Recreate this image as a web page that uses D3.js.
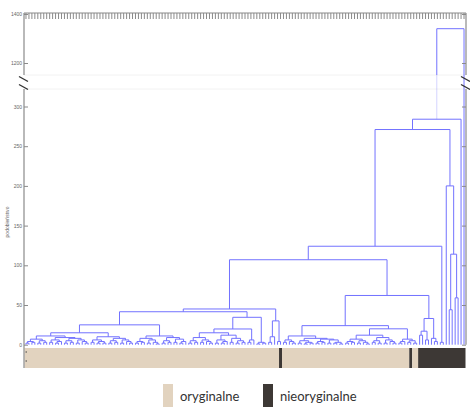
<!DOCTYPE html>
<html>
<head>
<meta charset="utf-8">
<script src="https://cdn.jsdelivr.net/npm/d3@7"></script>
<style>
  body { margin: 0; background: #fff; }
  text { font-family: "Liberation Sans", Arial, sans-serif; }
</style>
</head>
<body>
<svg id="chart" width="470" height="407"></svg>
<script>
// ---- Dendrogram data: each node is [mergeHeight, left, right]; a leaf is its class (0 = oryginalne, 1 = nieoryginalne)
const a1 = [11, [7, [4, [2, 0, 0], [3, 0, 0]], [5, [2, 0, 0], [3, 0, 0]]],
               [9, [6, [3, 0, 0], [4, [2, 0, 0], 0]], [8, [5, [2, 0, 0], [3, 0, 0]], [6, [2, 0, 0], [4, 0, [2, 0, 0]]]]]];
const a2 = [10, [6, [3, 0, 0], [4, [2, 0, 0], [2, 0, 0]]],
               [8, [5, [2, 0, 0], [3, 0, 0]], [6, [2, 0, 0], [4, 0, [2, 0, 0]]]]];
const a3 = [11, [8, [4, [2, 0, 0], [3, 0, 0]], [6, [2, 0, 0], [3, 0, [1, 0, 0]]]],
               [9, [5, [2, 0, 0], [3, 0, 0]], [7, [3, 0, 0], [4, [2, 0, 0], 0]]]];
const b1 = [15, [9, [5, [2, 0, 0], [3, 0, 0]], [6, [3, 0, 0], [4, 0, [2, 0, 0]]]],
               [12, [6, [2, 0, 0], [4, [2, 0, 0], 0]], [8, [3, 0, 0], [5, [2, 0, 0], [3, 0, 0]]]]];
const b2 = [6, [3, 0, 0], 0];
const b3 = [3, [1, 0, 0], [2, 0, 0]];
const c1 = [30, [10, [3, 0, 0], 0], [4, 0, 1]];
const g1 = [6, [3, 0, 0], [4, 0, [2, 0, 0]]];
const g2 = [8, [5, [2, 0, 0], [3, [1, 0, 0], [2, 0, 0]]],
              [7, [4, [2, 0, 0], [3, 0, 0]], [6, [2, 0, 0], [3, [2, 0, 0], [1, 0, 0]]]]];
const g3 = [12, [7, [4, [2, 0, 0], [3, 0, 0]], [5, [2, 0, 0], [3, 0, [1, 0, 0]]]],
               [9, [5, [3, 0, 0], [2, 0, 0]], [6, [2, 0, 0], [4, 0, [2, 0, 0]]]]];
const g4 = [7, [4, [2, 0, 0], 0], [5, [3, 0, 1], [2, 0, 0]]];
const f1 = [33, [17, [12, 1, 1], [6, 1, 1]], [8, 1, [4, 1, 1]]];
const e1 = [3, 1, 1];
const h1 = [200, 1, [114, [44, 1, 1], [59, 1, 1]]];

// upper merges
const clusterA = [25, [15, a1, a2], a3];
const clusterB = [41.5, clusterA, [34.5, [19.8, b1, b2], b3]];
const clusterC = [45, clusterB, c1];
const clusterG = [24, [11, g1, g2], [20, g3, g4]];
const clusterF = [62, clusterG, f1];
const clusterD = [107, clusterC, clusterF];
const clusterE = [124, clusterD, e1];
const tree = [1340, [284, [271, clusterE, h1], 1], 1];

// axis ticks and legend
const lowTicks = [0, 50, 100, 150, 200, 250, 300];
const highTicks = [1200, 1400];
const classNames = ["oryginalne", "nieoryginalne"];
const classColors = ["#e2d3bf", "#3d3835"];
const yTitle = "podobieństwo";

// ---- layout
const svg = d3.select("#chart");
const plotL = 24, plotR = 466, plotT = 13;
const breakTop = 75, breakBottom = 89;
const barTop = 348, barBottom = 368;

const yLow = d3.scaleLinear().domain([0, 300]).range([344.7, 106.5]);
const yHigh = d3.scaleLinear().domain([1200, 1400]).range([63, 14]);
const yv = v => v > 700 ? yHigh(v) : yLow(v);

function toNode(d) {
  return Array.isArray(d) ? { h: d[0], children: [toNode(d[1]), toNode(d[2])] } : { h: 0, cls: d };
}
const root = d3.hierarchy(toNode(tree));
const leaves = root.leaves();
const x = d3.scaleBand().domain(d3.range(leaves.length)).range([plotL + 0.5, plotR - 0.5]);
leaves.forEach((d, i) => { d.i = i; d.x = x(i) + x.bandwidth() / 2; });
root.eachAfter(d => { if (d.children) d.x = d3.mean(d.children, c => c.x); });

// faint band lines of the axis break
svg.append("g").selectAll("line").data([breakTop, breakBottom]).join("line")
  .attr("x1", plotL).attr("x2", plotR).attr("y1", d => d).attr("y2", d => d)
  .attr("stroke", "#f2f2f2").attr("stroke-width", 1);

// class bar under the leaves: one run per stretch of equal class
const runs = [];
leaves.forEach(d => {
  const last = runs[runs.length - 1];
  if (last && last.cls === d.data.cls) last.end = d.i;
  else runs.push({ cls: d.data.cls, start: d.i, end: d.i });
});
svg.append("g").selectAll("rect").data(runs).join("rect")
  .attr("x", d => x(d.start)).attr("width", d => x(d.end) + x.bandwidth() - x(d.start))
  .attr("y", barTop).attr("height", barBottom - barTop)
  .attr("fill", d => classColors[d.cls]);

// dendrogram links
const links = svg.append("g").attr("fill", "none").attr("stroke", "#7272ff").attr("stroke-width", 1);
root.descendants().filter(d => d.children).forEach(d => {
  const [c0, c1] = d.children;
  const yn = yv(d.data.h);
  if (d === root) {
    // left branch passes through the break: drawn lighter below it
    links.append("path").attr("d", `M${c0.x},${yn}V${breakTop}`);
    links.append("path").attr("d", `M${c0.x},${breakTop}V${yv(c0.data.h)}`).attr("stroke-opacity", 0.3);
    links.append("path").attr("d", `M${c0.x},${yn}H${c1.x}V${yv(c1.data.h)}`);
  } else {
    links.append("path").attr("d", `M${c0.x},${yv(c0.data.h)}V${yn}H${c1.x}V${yv(c1.data.h)}`);
  }
});

// axes
const axisColor = "#8a8a8a";
function styleAxis(g) {
  g.select(".domain").remove();
  g.selectAll(".tick line").attr("stroke", axisColor);
  g.selectAll(".tick text").attr("fill", "#666").attr("font-size", 5);
}
svg.append("g").attr("transform", `translate(${plotL},0)`)
  .call(d3.axisLeft(yLow).tickValues(lowTicks).tickFormat(d3.format("d")).tickSizeInner(-4).tickSizeOuter(0).tickPadding(2)).call(styleAxis);
svg.append("g").attr("transform", `translate(${plotL},0)`)
  .call(d3.axisLeft(yHigh).tickValues(highTicks).tickFormat(d3.format("d")).tickSizeInner(-4).tickSizeOuter(0).tickPadding(2)).call(styleAxis);
svg.append("g").attr("transform", `translate(${plotR},0)`)
  .call(d3.axisRight(yLow).tickValues(lowTicks).tickSizeInner(-4).tickSizeOuter(0).tickFormat("")).call(styleAxis);
svg.append("g").attr("transform", `translate(${plotR},0)`)
  .call(d3.axisRight(yHigh).tickValues(highTicks).tickSizeInner(-4).tickSizeOuter(0).tickFormat("")).call(styleAxis);
svg.append("g").attr("transform", `translate(0,${plotT})`)
  .call(d3.axisTop(x).tickSizeInner(-6).tickSizeOuter(0).tickFormat("")).call(styleAxis);

// frame lines (broken at the axis break)
const frame = svg.append("g").attr("stroke", axisColor).attr("stroke-width", 1.2);
frame.append("line").attr("x1", plotL).attr("x2", plotR).attr("y1", plotT).attr("y2", plotT);
[plotL, plotR].forEach(xx => {
  frame.append("line").attr("x1", xx).attr("x2", xx).attr("y1", plotT).attr("y2", breakTop);
  frame.append("line").attr("x1", xx).attr("x2", xx).attr("y1", breakBottom).attr("y2", xx === plotL ? barBottom : yLow(0));
});

// break marks
const slash = svg.append("g").attr("stroke", "#333").attr("stroke-width", 1.4);
[[plotL, 78], [plotL, 86], [plotR, 78], [plotR, 86]].forEach(([xx, yy]) => {
  slash.append("line").attr("x1", xx - 5).attr("y1", yy - 1.5).attr("x2", xx + 4).attr("y2", yy + 3.5);
});

// row marks beside the class bar
svg.append("g").selectAll("line").data([352, 361]).join("line")
  .attr("x1", plotL + 1.5).attr("x2", plotL + 3).attr("y1", d => d).attr("y2", d => d)
  .attr("stroke", "#444").attr("stroke-width", 1);

// y title
svg.append("text").attr("transform", "translate(9,222) rotate(-90)")
  .attr("text-anchor", "middle").attr("font-size", 5).attr("fill", "#666").text(yTitle);

// legend
const legend = svg.append("g").selectAll("g").data(classNames).join("g")
  .attr("transform", (d, i) => `translate(${163 + i * 100},384)`);
legend.append("rect").attr("width", 10).attr("height", 23).attr("fill", (d, i) => classColors[i]);
legend.append("text").attr("x", 17).attr("y", 17).attr("font-size", 13)
  .attr("fill", "#333").style("font-family", "Lato, 'Open Sans', sans-serif").text(d => d);
</script>
</body>
</html>
